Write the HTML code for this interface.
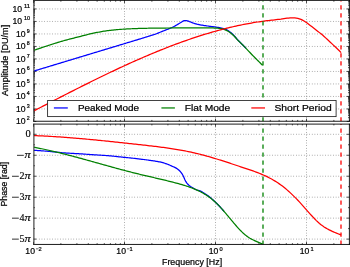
<!DOCTYPE html>
<html><head><meta charset="utf-8"><style>
html,body{margin:0;padding:0;background:#fff;}
svg{display:block;will-change:transform;}
.g{stroke:#000;stroke-width:0.45;stroke-dasharray:0.7 1.95;fill:none;}
.t{stroke:#000;stroke-width:0.7;}
.ax{stroke:#000;stroke-width:0.9;fill:none;}
text{font-family:"Liberation Sans",sans-serif;fill:#000;stroke:#000;stroke-width:0.22;}
.sr{font-family:"Liberation Serif",serif;stroke-width:0.15;}
</style></head><body>
<svg width="350" height="267" viewBox="0 0 350 267">
<rect width="350" height="267" fill="#fff"/>
<defs>
<clipPath id="ct"><rect x="33.65" y="0.4" width="315.75" height="120.85"/></clipPath>
<clipPath id="cb"><rect x="33.65" y="124.1" width="315.75" height="120.35"/></clipPath>
</defs>
<line x1="124.50" y1="0.40" x2="124.50" y2="121.25" class="g"/>
<line x1="215.50" y1="0.40" x2="215.50" y2="121.25" class="g"/>
<line x1="306.50" y1="0.40" x2="306.50" y2="121.25" class="g"/>
<line x1="33.65" y1="108.94" x2="349.40" y2="108.94" class="g"/>
<line x1="33.65" y1="96.44" x2="349.40" y2="96.44" class="g"/>
<line x1="33.65" y1="83.94" x2="349.40" y2="83.94" class="g"/>
<line x1="33.65" y1="71.44" x2="349.40" y2="71.44" class="g"/>
<line x1="33.65" y1="58.94" x2="349.40" y2="58.94" class="g"/>
<line x1="33.65" y1="46.44" x2="349.40" y2="46.44" class="g"/>
<line x1="33.65" y1="33.94" x2="349.40" y2="33.94" class="g"/>
<line x1="33.65" y1="21.44" x2="349.40" y2="21.44" class="g"/>
<line x1="33.65" y1="8.94" x2="349.40" y2="8.94" class="g"/>
<line x1="33.50" y1="121.25" x2="33.50" y2="118.61" class="t"/>
<line x1="33.50" y1="0.40" x2="33.50" y2="3.04" class="t"/>
<line x1="60.89" y1="121.25" x2="60.89" y2="119.93" class="t"/>
<line x1="60.89" y1="0.40" x2="60.89" y2="1.72" class="t"/>
<line x1="76.92" y1="121.25" x2="76.92" y2="119.93" class="t"/>
<line x1="76.92" y1="0.40" x2="76.92" y2="1.72" class="t"/>
<line x1="88.29" y1="121.25" x2="88.29" y2="119.93" class="t"/>
<line x1="88.29" y1="0.40" x2="88.29" y2="1.72" class="t"/>
<line x1="97.11" y1="121.25" x2="97.11" y2="119.93" class="t"/>
<line x1="97.11" y1="0.40" x2="97.11" y2="1.72" class="t"/>
<line x1="104.31" y1="121.25" x2="104.31" y2="119.93" class="t"/>
<line x1="104.31" y1="0.40" x2="104.31" y2="1.72" class="t"/>
<line x1="110.40" y1="121.25" x2="110.40" y2="119.93" class="t"/>
<line x1="110.40" y1="0.40" x2="110.40" y2="1.72" class="t"/>
<line x1="115.68" y1="121.25" x2="115.68" y2="119.93" class="t"/>
<line x1="115.68" y1="0.40" x2="115.68" y2="1.72" class="t"/>
<line x1="120.34" y1="121.25" x2="120.34" y2="119.93" class="t"/>
<line x1="120.34" y1="0.40" x2="120.34" y2="1.72" class="t"/>
<line x1="124.50" y1="121.25" x2="124.50" y2="118.61" class="t"/>
<line x1="124.50" y1="0.40" x2="124.50" y2="3.04" class="t"/>
<line x1="151.89" y1="121.25" x2="151.89" y2="119.93" class="t"/>
<line x1="151.89" y1="0.40" x2="151.89" y2="1.72" class="t"/>
<line x1="167.92" y1="121.25" x2="167.92" y2="119.93" class="t"/>
<line x1="167.92" y1="0.40" x2="167.92" y2="1.72" class="t"/>
<line x1="179.29" y1="121.25" x2="179.29" y2="119.93" class="t"/>
<line x1="179.29" y1="0.40" x2="179.29" y2="1.72" class="t"/>
<line x1="188.11" y1="121.25" x2="188.11" y2="119.93" class="t"/>
<line x1="188.11" y1="0.40" x2="188.11" y2="1.72" class="t"/>
<line x1="195.31" y1="121.25" x2="195.31" y2="119.93" class="t"/>
<line x1="195.31" y1="0.40" x2="195.31" y2="1.72" class="t"/>
<line x1="201.40" y1="121.25" x2="201.40" y2="119.93" class="t"/>
<line x1="201.40" y1="0.40" x2="201.40" y2="1.72" class="t"/>
<line x1="206.68" y1="121.25" x2="206.68" y2="119.93" class="t"/>
<line x1="206.68" y1="0.40" x2="206.68" y2="1.72" class="t"/>
<line x1="211.34" y1="121.25" x2="211.34" y2="119.93" class="t"/>
<line x1="211.34" y1="0.40" x2="211.34" y2="1.72" class="t"/>
<line x1="215.50" y1="121.25" x2="215.50" y2="118.61" class="t"/>
<line x1="215.50" y1="0.40" x2="215.50" y2="3.04" class="t"/>
<line x1="242.89" y1="121.25" x2="242.89" y2="119.93" class="t"/>
<line x1="242.89" y1="0.40" x2="242.89" y2="1.72" class="t"/>
<line x1="258.92" y1="121.25" x2="258.92" y2="119.93" class="t"/>
<line x1="258.92" y1="0.40" x2="258.92" y2="1.72" class="t"/>
<line x1="270.29" y1="121.25" x2="270.29" y2="119.93" class="t"/>
<line x1="270.29" y1="0.40" x2="270.29" y2="1.72" class="t"/>
<line x1="279.11" y1="121.25" x2="279.11" y2="119.93" class="t"/>
<line x1="279.11" y1="0.40" x2="279.11" y2="1.72" class="t"/>
<line x1="286.31" y1="121.25" x2="286.31" y2="119.93" class="t"/>
<line x1="286.31" y1="0.40" x2="286.31" y2="1.72" class="t"/>
<line x1="292.40" y1="121.25" x2="292.40" y2="119.93" class="t"/>
<line x1="292.40" y1="0.40" x2="292.40" y2="1.72" class="t"/>
<line x1="297.68" y1="121.25" x2="297.68" y2="119.93" class="t"/>
<line x1="297.68" y1="0.40" x2="297.68" y2="1.72" class="t"/>
<line x1="302.34" y1="121.25" x2="302.34" y2="119.93" class="t"/>
<line x1="302.34" y1="0.40" x2="302.34" y2="1.72" class="t"/>
<line x1="306.50" y1="121.25" x2="306.50" y2="118.61" class="t"/>
<line x1="306.50" y1="0.40" x2="306.50" y2="3.04" class="t"/>
<line x1="333.89" y1="121.25" x2="333.89" y2="119.93" class="t"/>
<line x1="333.89" y1="0.40" x2="333.89" y2="1.72" class="t"/>
<line x1="349.92" y1="121.25" x2="349.92" y2="119.93" class="t"/>
<line x1="349.92" y1="0.40" x2="349.92" y2="1.72" class="t"/>
<line x1="33.65" y1="121.44" x2="36.29" y2="121.44" class="t"/>
<line x1="349.40" y1="121.44" x2="346.76" y2="121.44" class="t"/>
<line x1="33.65" y1="108.94" x2="36.29" y2="108.94" class="t"/>
<line x1="349.40" y1="108.94" x2="346.76" y2="108.94" class="t"/>
<line x1="33.65" y1="96.44" x2="36.29" y2="96.44" class="t"/>
<line x1="349.40" y1="96.44" x2="346.76" y2="96.44" class="t"/>
<line x1="33.65" y1="83.94" x2="36.29" y2="83.94" class="t"/>
<line x1="349.40" y1="83.94" x2="346.76" y2="83.94" class="t"/>
<line x1="33.65" y1="71.44" x2="36.29" y2="71.44" class="t"/>
<line x1="349.40" y1="71.44" x2="346.76" y2="71.44" class="t"/>
<line x1="33.65" y1="58.94" x2="36.29" y2="58.94" class="t"/>
<line x1="349.40" y1="58.94" x2="346.76" y2="58.94" class="t"/>
<line x1="33.65" y1="46.44" x2="36.29" y2="46.44" class="t"/>
<line x1="349.40" y1="46.44" x2="346.76" y2="46.44" class="t"/>
<line x1="33.65" y1="33.94" x2="36.29" y2="33.94" class="t"/>
<line x1="349.40" y1="33.94" x2="346.76" y2="33.94" class="t"/>
<line x1="33.65" y1="21.44" x2="36.29" y2="21.44" class="t"/>
<line x1="349.40" y1="21.44" x2="346.76" y2="21.44" class="t"/>
<line x1="33.65" y1="8.94" x2="36.29" y2="8.94" class="t"/>
<line x1="349.40" y1="8.94" x2="346.76" y2="8.94" class="t"/>
<line x1="33.65" y1="117.68" x2="34.97" y2="117.68" class="t"/>
<line x1="349.40" y1="117.68" x2="348.08" y2="117.68" class="t"/>
<line x1="33.65" y1="115.48" x2="34.97" y2="115.48" class="t"/>
<line x1="349.40" y1="115.48" x2="348.08" y2="115.48" class="t"/>
<line x1="33.65" y1="113.91" x2="34.97" y2="113.91" class="t"/>
<line x1="349.40" y1="113.91" x2="348.08" y2="113.91" class="t"/>
<line x1="33.65" y1="112.70" x2="34.97" y2="112.70" class="t"/>
<line x1="349.40" y1="112.70" x2="348.08" y2="112.70" class="t"/>
<line x1="33.65" y1="111.71" x2="34.97" y2="111.71" class="t"/>
<line x1="349.40" y1="111.71" x2="348.08" y2="111.71" class="t"/>
<line x1="33.65" y1="110.88" x2="34.97" y2="110.88" class="t"/>
<line x1="349.40" y1="110.88" x2="348.08" y2="110.88" class="t"/>
<line x1="33.65" y1="110.15" x2="34.97" y2="110.15" class="t"/>
<line x1="349.40" y1="110.15" x2="348.08" y2="110.15" class="t"/>
<line x1="33.65" y1="109.51" x2="34.97" y2="109.51" class="t"/>
<line x1="349.40" y1="109.51" x2="348.08" y2="109.51" class="t"/>
<line x1="33.65" y1="105.18" x2="34.97" y2="105.18" class="t"/>
<line x1="349.40" y1="105.18" x2="348.08" y2="105.18" class="t"/>
<line x1="33.65" y1="102.98" x2="34.97" y2="102.98" class="t"/>
<line x1="349.40" y1="102.98" x2="348.08" y2="102.98" class="t"/>
<line x1="33.65" y1="101.41" x2="34.97" y2="101.41" class="t"/>
<line x1="349.40" y1="101.41" x2="348.08" y2="101.41" class="t"/>
<line x1="33.65" y1="100.20" x2="34.97" y2="100.20" class="t"/>
<line x1="349.40" y1="100.20" x2="348.08" y2="100.20" class="t"/>
<line x1="33.65" y1="99.21" x2="34.97" y2="99.21" class="t"/>
<line x1="349.40" y1="99.21" x2="348.08" y2="99.21" class="t"/>
<line x1="33.65" y1="98.38" x2="34.97" y2="98.38" class="t"/>
<line x1="349.40" y1="98.38" x2="348.08" y2="98.38" class="t"/>
<line x1="33.65" y1="97.65" x2="34.97" y2="97.65" class="t"/>
<line x1="349.40" y1="97.65" x2="348.08" y2="97.65" class="t"/>
<line x1="33.65" y1="97.01" x2="34.97" y2="97.01" class="t"/>
<line x1="349.40" y1="97.01" x2="348.08" y2="97.01" class="t"/>
<line x1="33.65" y1="92.68" x2="34.97" y2="92.68" class="t"/>
<line x1="349.40" y1="92.68" x2="348.08" y2="92.68" class="t"/>
<line x1="33.65" y1="90.48" x2="34.97" y2="90.48" class="t"/>
<line x1="349.40" y1="90.48" x2="348.08" y2="90.48" class="t"/>
<line x1="33.65" y1="88.91" x2="34.97" y2="88.91" class="t"/>
<line x1="349.40" y1="88.91" x2="348.08" y2="88.91" class="t"/>
<line x1="33.65" y1="87.70" x2="34.97" y2="87.70" class="t"/>
<line x1="349.40" y1="87.70" x2="348.08" y2="87.70" class="t"/>
<line x1="33.65" y1="86.71" x2="34.97" y2="86.71" class="t"/>
<line x1="349.40" y1="86.71" x2="348.08" y2="86.71" class="t"/>
<line x1="33.65" y1="85.88" x2="34.97" y2="85.88" class="t"/>
<line x1="349.40" y1="85.88" x2="348.08" y2="85.88" class="t"/>
<line x1="33.65" y1="85.15" x2="34.97" y2="85.15" class="t"/>
<line x1="349.40" y1="85.15" x2="348.08" y2="85.15" class="t"/>
<line x1="33.65" y1="84.51" x2="34.97" y2="84.51" class="t"/>
<line x1="349.40" y1="84.51" x2="348.08" y2="84.51" class="t"/>
<line x1="33.65" y1="80.18" x2="34.97" y2="80.18" class="t"/>
<line x1="349.40" y1="80.18" x2="348.08" y2="80.18" class="t"/>
<line x1="33.65" y1="77.98" x2="34.97" y2="77.98" class="t"/>
<line x1="349.40" y1="77.98" x2="348.08" y2="77.98" class="t"/>
<line x1="33.65" y1="76.41" x2="34.97" y2="76.41" class="t"/>
<line x1="349.40" y1="76.41" x2="348.08" y2="76.41" class="t"/>
<line x1="33.65" y1="75.20" x2="34.97" y2="75.20" class="t"/>
<line x1="349.40" y1="75.20" x2="348.08" y2="75.20" class="t"/>
<line x1="33.65" y1="74.21" x2="34.97" y2="74.21" class="t"/>
<line x1="349.40" y1="74.21" x2="348.08" y2="74.21" class="t"/>
<line x1="33.65" y1="73.38" x2="34.97" y2="73.38" class="t"/>
<line x1="349.40" y1="73.38" x2="348.08" y2="73.38" class="t"/>
<line x1="33.65" y1="72.65" x2="34.97" y2="72.65" class="t"/>
<line x1="349.40" y1="72.65" x2="348.08" y2="72.65" class="t"/>
<line x1="33.65" y1="72.01" x2="34.97" y2="72.01" class="t"/>
<line x1="349.40" y1="72.01" x2="348.08" y2="72.01" class="t"/>
<line x1="33.65" y1="67.68" x2="34.97" y2="67.68" class="t"/>
<line x1="349.40" y1="67.68" x2="348.08" y2="67.68" class="t"/>
<line x1="33.65" y1="65.48" x2="34.97" y2="65.48" class="t"/>
<line x1="349.40" y1="65.48" x2="348.08" y2="65.48" class="t"/>
<line x1="33.65" y1="63.91" x2="34.97" y2="63.91" class="t"/>
<line x1="349.40" y1="63.91" x2="348.08" y2="63.91" class="t"/>
<line x1="33.65" y1="62.70" x2="34.97" y2="62.70" class="t"/>
<line x1="349.40" y1="62.70" x2="348.08" y2="62.70" class="t"/>
<line x1="33.65" y1="61.71" x2="34.97" y2="61.71" class="t"/>
<line x1="349.40" y1="61.71" x2="348.08" y2="61.71" class="t"/>
<line x1="33.65" y1="60.88" x2="34.97" y2="60.88" class="t"/>
<line x1="349.40" y1="60.88" x2="348.08" y2="60.88" class="t"/>
<line x1="33.65" y1="60.15" x2="34.97" y2="60.15" class="t"/>
<line x1="349.40" y1="60.15" x2="348.08" y2="60.15" class="t"/>
<line x1="33.65" y1="59.51" x2="34.97" y2="59.51" class="t"/>
<line x1="349.40" y1="59.51" x2="348.08" y2="59.51" class="t"/>
<line x1="33.65" y1="55.18" x2="34.97" y2="55.18" class="t"/>
<line x1="349.40" y1="55.18" x2="348.08" y2="55.18" class="t"/>
<line x1="33.65" y1="52.98" x2="34.97" y2="52.98" class="t"/>
<line x1="349.40" y1="52.98" x2="348.08" y2="52.98" class="t"/>
<line x1="33.65" y1="51.41" x2="34.97" y2="51.41" class="t"/>
<line x1="349.40" y1="51.41" x2="348.08" y2="51.41" class="t"/>
<line x1="33.65" y1="50.20" x2="34.97" y2="50.20" class="t"/>
<line x1="349.40" y1="50.20" x2="348.08" y2="50.20" class="t"/>
<line x1="33.65" y1="49.21" x2="34.97" y2="49.21" class="t"/>
<line x1="349.40" y1="49.21" x2="348.08" y2="49.21" class="t"/>
<line x1="33.65" y1="48.38" x2="34.97" y2="48.38" class="t"/>
<line x1="349.40" y1="48.38" x2="348.08" y2="48.38" class="t"/>
<line x1="33.65" y1="47.65" x2="34.97" y2="47.65" class="t"/>
<line x1="349.40" y1="47.65" x2="348.08" y2="47.65" class="t"/>
<line x1="33.65" y1="47.01" x2="34.97" y2="47.01" class="t"/>
<line x1="349.40" y1="47.01" x2="348.08" y2="47.01" class="t"/>
<line x1="33.65" y1="42.68" x2="34.97" y2="42.68" class="t"/>
<line x1="349.40" y1="42.68" x2="348.08" y2="42.68" class="t"/>
<line x1="33.65" y1="40.48" x2="34.97" y2="40.48" class="t"/>
<line x1="349.40" y1="40.48" x2="348.08" y2="40.48" class="t"/>
<line x1="33.65" y1="38.91" x2="34.97" y2="38.91" class="t"/>
<line x1="349.40" y1="38.91" x2="348.08" y2="38.91" class="t"/>
<line x1="33.65" y1="37.70" x2="34.97" y2="37.70" class="t"/>
<line x1="349.40" y1="37.70" x2="348.08" y2="37.70" class="t"/>
<line x1="33.65" y1="36.71" x2="34.97" y2="36.71" class="t"/>
<line x1="349.40" y1="36.71" x2="348.08" y2="36.71" class="t"/>
<line x1="33.65" y1="35.88" x2="34.97" y2="35.88" class="t"/>
<line x1="349.40" y1="35.88" x2="348.08" y2="35.88" class="t"/>
<line x1="33.65" y1="35.15" x2="34.97" y2="35.15" class="t"/>
<line x1="349.40" y1="35.15" x2="348.08" y2="35.15" class="t"/>
<line x1="33.65" y1="34.51" x2="34.97" y2="34.51" class="t"/>
<line x1="349.40" y1="34.51" x2="348.08" y2="34.51" class="t"/>
<line x1="33.65" y1="30.18" x2="34.97" y2="30.18" class="t"/>
<line x1="349.40" y1="30.18" x2="348.08" y2="30.18" class="t"/>
<line x1="33.65" y1="27.98" x2="34.97" y2="27.98" class="t"/>
<line x1="349.40" y1="27.98" x2="348.08" y2="27.98" class="t"/>
<line x1="33.65" y1="26.41" x2="34.97" y2="26.41" class="t"/>
<line x1="349.40" y1="26.41" x2="348.08" y2="26.41" class="t"/>
<line x1="33.65" y1="25.20" x2="34.97" y2="25.20" class="t"/>
<line x1="349.40" y1="25.20" x2="348.08" y2="25.20" class="t"/>
<line x1="33.65" y1="24.21" x2="34.97" y2="24.21" class="t"/>
<line x1="349.40" y1="24.21" x2="348.08" y2="24.21" class="t"/>
<line x1="33.65" y1="23.38" x2="34.97" y2="23.38" class="t"/>
<line x1="349.40" y1="23.38" x2="348.08" y2="23.38" class="t"/>
<line x1="33.65" y1="22.65" x2="34.97" y2="22.65" class="t"/>
<line x1="349.40" y1="22.65" x2="348.08" y2="22.65" class="t"/>
<line x1="33.65" y1="22.01" x2="34.97" y2="22.01" class="t"/>
<line x1="349.40" y1="22.01" x2="348.08" y2="22.01" class="t"/>
<line x1="33.65" y1="17.68" x2="34.97" y2="17.68" class="t"/>
<line x1="349.40" y1="17.68" x2="348.08" y2="17.68" class="t"/>
<line x1="33.65" y1="15.48" x2="34.97" y2="15.48" class="t"/>
<line x1="349.40" y1="15.48" x2="348.08" y2="15.48" class="t"/>
<line x1="33.65" y1="13.91" x2="34.97" y2="13.91" class="t"/>
<line x1="349.40" y1="13.91" x2="348.08" y2="13.91" class="t"/>
<line x1="33.65" y1="12.70" x2="34.97" y2="12.70" class="t"/>
<line x1="349.40" y1="12.70" x2="348.08" y2="12.70" class="t"/>
<line x1="33.65" y1="11.71" x2="34.97" y2="11.71" class="t"/>
<line x1="349.40" y1="11.71" x2="348.08" y2="11.71" class="t"/>
<line x1="33.65" y1="10.88" x2="34.97" y2="10.88" class="t"/>
<line x1="349.40" y1="10.88" x2="348.08" y2="10.88" class="t"/>
<line x1="33.65" y1="10.15" x2="34.97" y2="10.15" class="t"/>
<line x1="349.40" y1="10.15" x2="348.08" y2="10.15" class="t"/>
<line x1="33.65" y1="9.51" x2="34.97" y2="9.51" class="t"/>
<line x1="349.40" y1="9.51" x2="348.08" y2="9.51" class="t"/>
<line x1="33.65" y1="5.18" x2="34.97" y2="5.18" class="t"/>
<line x1="349.40" y1="5.18" x2="348.08" y2="5.18" class="t"/>
<line x1="33.65" y1="2.98" x2="34.97" y2="2.98" class="t"/>
<line x1="349.40" y1="2.98" x2="348.08" y2="2.98" class="t"/>
<line x1="33.65" y1="1.41" x2="34.97" y2="1.41" class="t"/>
<line x1="349.40" y1="1.41" x2="348.08" y2="1.41" class="t"/>
<g clip-path="url(#ct)" fill="none" stroke-linejoin="round" stroke-linecap="butt">
<path d="M33.70,71.10 L34.77,70.78 L35.83,70.45 L36.90,70.13 L37.97,69.81 L39.03,69.49 L40.10,69.16 L41.17,68.84 L42.23,68.52 L43.30,68.19 L44.37,67.87 L45.44,67.55 L46.50,67.23 L47.57,66.90 L48.64,66.58 L49.70,66.26 L50.77,65.93 L51.84,65.61 L52.90,65.29 L53.97,64.97 L55.04,64.64 L56.10,64.32 L57.17,64.00 L58.24,63.67 L59.30,63.35 L60.37,63.03 L61.44,62.70 L62.50,62.38 L63.57,62.06 L64.64,61.74 L65.71,61.41 L66.77,61.09 L67.84,60.77 L68.91,60.44 L69.97,60.12 L71.04,59.80 L72.11,59.48 L73.17,59.15 L74.24,58.83 L75.31,58.51 L76.37,58.18 L77.44,57.86 L78.51,57.54 L79.57,57.22 L80.64,56.89 L81.71,56.57 L82.77,56.25 L83.84,55.92 L84.91,55.60 L85.97,55.28 L87.04,54.96 L88.11,54.63 L89.18,54.31 L90.24,53.99 L91.31,53.66 L92.38,53.34 L93.44,53.02 L94.51,52.70 L95.58,52.37 L96.64,52.05 L97.71,51.73 L98.78,51.40 L99.84,51.08 L100.91,50.76 L101.98,50.44 L103.04,50.11 L104.11,49.79 L105.18,49.47 L106.24,49.14 L107.31,48.82 L108.38,48.50 L109.45,48.18 L110.51,47.85 L111.58,47.53 L112.65,47.21 L113.71,46.88 L114.78,46.56 L115.85,46.24 L116.91,45.91 L117.98,45.59 L119.05,45.27 L120.11,44.95 L121.18,44.62 L122.25,44.30 L123.31,43.98 L124.38,43.66 L125.45,43.34 L126.51,43.01 L127.58,42.69 L128.65,42.37 L129.72,42.05 L130.78,41.73 L131.85,41.41 L132.92,41.09 L133.98,40.76 L135.05,40.44 L136.12,40.12 L137.18,39.79 L138.25,39.47 L139.32,39.15 L140.38,38.82 L141.45,38.49 L142.52,38.17 L143.58,37.84 L144.65,37.51 L145.72,37.18 L146.78,36.85 L147.85,36.51 L148.92,36.18 L149.98,35.84 L151.05,35.50 L152.12,35.16 L153.19,34.83 L154.25,34.49 L155.32,34.14 L156.39,33.76 L157.45,33.34 L158.52,32.91 L159.59,32.47 L160.65,32.04 L161.72,31.61 L162.79,31.19 L163.85,30.76 L164.92,30.33 L165.99,29.91 L167.05,29.48 L168.12,29.05 L169.19,28.64 L170.25,28.23 L171.32,27.80 L172.39,27.32 L173.46,26.79 L174.52,26.22 L175.59,25.63 L176.66,25.02 L177.72,24.39 L178.79,23.74 L179.86,23.09 L180.92,22.41 L181.99,21.73 L183.06,21.18 L184.12,20.69 L185.19,20.50 L186.26,20.59 L187.32,20.76 L188.39,21.12 L189.46,21.58 L190.52,22.00 L191.59,22.42 L192.66,22.83 L193.73,23.21 L194.79,23.54 L195.86,23.85 L196.93,24.14 L197.99,24.40 L199.06,24.64 L200.13,24.86 L201.19,25.06 L202.26,25.24 L203.33,25.42 L204.39,25.58 L205.46,25.73 L206.53,25.87 L207.59,26.00 L208.66,26.13 L209.73,26.27 L210.79,26.40 L211.86,26.54 L212.93,26.67 L213.99,26.81 L215.06,26.96 L216.13,27.12 L217.20,27.29 L218.26,27.46 L219.33,27.65 L220.40,27.85 L221.46,28.08 L222.53,28.33 L223.60,28.62 L224.66,28.96 L225.73,29.36 L226.80,29.84 L227.86,30.45 L228.93,31.14 L230.00,31.90 L231.06,32.74 L232.13,33.70 L233.20,34.73 L234.26,35.82 L235.33,37.02 L236.40,38.30 L237.47,39.55 L238.53,40.72 L239.60,41.81 L240.67,42.87 L241.73,43.94 L242.80,45.03 L243.87,46.12 L244.93,47.22 L246.00,48.32" stroke="#0000ff" stroke-width="1.25"/>
<path d="M33.70,50.40 L34.85,50.00 L36.00,49.61 L37.15,49.21 L38.30,48.82 L39.45,48.43 L40.60,48.04 L41.75,47.66 L42.90,47.27 L44.05,46.89 L45.20,46.51 L46.35,46.14 L47.50,45.76 L48.65,45.39 L49.80,45.01 L50.95,44.64 L52.10,44.27 L53.25,43.89 L54.40,43.52 L55.55,43.16 L56.71,42.79 L57.86,42.43 L59.01,42.08 L60.16,41.73 L61.31,41.39 L62.46,41.06 L63.61,40.73 L64.76,40.41 L65.91,40.10 L67.06,39.79 L68.21,39.48 L69.36,39.19 L70.51,38.89 L71.66,38.60 L72.81,38.31 L73.96,38.02 L75.11,37.73 L76.26,37.44 L77.41,37.15 L78.56,36.86 L79.71,36.56 L80.86,36.27 L82.01,35.97 L83.16,35.67 L84.31,35.37 L85.46,35.08 L86.61,34.78 L87.76,34.50 L88.91,34.22 L90.06,33.95 L91.21,33.69 L92.36,33.43 L93.51,33.19 L94.66,32.95 L95.81,32.72 L96.96,32.48 L98.11,32.25 L99.26,32.03 L100.41,31.81 L101.56,31.59 L102.72,31.39 L103.87,31.20 L105.02,31.01 L106.17,30.84 L107.32,30.69 L108.47,30.54 L109.62,30.41 L110.77,30.27 L111.92,30.15 L113.07,30.03 L114.22,29.91 L115.37,29.80 L116.52,29.69 L117.67,29.59 L118.82,29.50 L119.97,29.41 L121.12,29.32 L122.27,29.25 L123.42,29.17 L124.57,29.10 L125.72,29.04 L126.87,28.97 L128.02,28.91 L129.17,28.86 L130.32,28.80 L131.47,28.75 L132.62,28.70 L133.77,28.65 L134.92,28.61 L136.07,28.56 L137.22,28.52 L138.37,28.49 L139.52,28.45 L140.67,28.42 L141.82,28.39 L142.97,28.36 L144.12,28.33 L145.27,28.30 L146.42,28.27 L147.57,28.25 L148.73,28.22 L149.88,28.20 L151.03,28.18 L152.18,28.16 L153.33,28.15 L154.48,28.13 L155.63,28.11 L156.78,28.10 L157.93,28.08 L159.08,28.07 L160.23,28.06 L161.38,28.05 L162.53,28.04 L163.68,28.03 L164.83,28.02 L165.98,28.01 L167.13,28.00 L168.28,28.00 L169.43,28.00 L170.58,27.99 L171.73,27.99 L172.88,27.99 L174.03,27.98 L175.18,27.98 L176.33,27.98 L177.48,27.98 L178.63,27.98 L179.78,27.97 L180.93,27.97 L182.08,27.97 L183.23,27.97 L184.38,27.97 L185.53,27.97 L186.68,27.96 L187.83,27.96 L188.98,27.96 L190.13,27.96 L191.28,27.96 L192.43,27.95 L193.58,27.95 L194.74,27.95 L195.89,27.94 L197.04,27.94 L198.19,27.93 L199.34,27.92 L200.49,27.92 L201.64,27.91 L202.79,27.91 L203.94,27.90 L205.09,27.90 L206.24,27.90 L207.39,27.90 L208.54,27.91 L209.69,27.92 L210.84,27.94 L211.99,27.96 L213.14,27.98 L214.29,28.01 L215.44,28.06 L216.59,28.14 L217.74,28.24 L218.89,28.37 L220.04,28.51 L221.19,28.69 L222.34,28.94 L223.49,29.25 L224.64,29.61 L225.79,30.08 L226.94,30.63 L228.09,31.25 L229.24,31.97 L230.39,32.79 L231.54,33.71 L232.69,34.68 L233.84,35.78 L234.99,37.01 L236.14,38.29 L237.29,39.56 L238.44,40.75 L239.59,41.88 L240.75,42.99 L241.90,44.11 L243.05,45.24 L244.20,46.42 L245.35,47.62 L246.50,48.85 L247.65,50.08 L248.80,51.32 L249.95,52.55 L251.10,53.77 L252.25,54.96 L253.40,56.14 L254.55,57.31 L255.70,58.47 L256.85,59.63 L258.00,60.78 L259.15,61.92 L260.30,63.06 L261.45,64.18 L262.60,65.30" stroke="#008000" stroke-width="1.25"/>
<path d="M33.70,110.97 L35.24,110.17 L36.79,109.37 L38.33,108.57 L39.88,107.77 L41.42,106.97 L42.97,106.17 L44.51,105.37 L46.06,104.57 L47.60,103.78 L49.15,102.98 L50.69,102.18 L52.24,101.39 L53.78,100.59 L55.33,99.79 L56.87,99.00 L58.42,98.21 L59.96,97.41 L61.51,96.62 L63.05,95.83 L64.59,95.04 L66.14,94.25 L67.68,93.46 L69.23,92.68 L70.77,91.89 L72.32,91.10 L73.86,90.32 L75.41,89.54 L76.95,88.76 L78.50,87.98 L80.04,87.20 L81.59,86.43 L83.13,85.65 L84.68,84.88 L86.22,84.11 L87.77,83.34 L89.31,82.57 L90.85,81.81 L92.40,81.04 L93.94,80.28 L95.49,79.52 L97.03,78.76 L98.58,78.01 L100.12,77.26 L101.67,76.50 L103.21,75.76 L104.76,75.01 L106.30,74.27 L107.85,73.52 L109.39,72.79 L110.94,72.05 L112.48,71.32 L114.03,70.59 L115.57,69.86 L117.12,69.13 L118.66,68.41 L120.20,67.69 L121.75,66.97 L123.29,66.26 L124.84,65.55 L126.38,64.84 L127.93,64.14 L129.47,63.44 L131.02,62.74 L132.56,62.05 L134.11,61.36 L135.65,60.67 L137.20,59.99 L138.74,59.31 L140.29,58.63 L141.83,57.96 L143.38,57.29 L144.92,56.62 L146.46,55.96 L148.01,55.31 L149.55,54.65 L151.10,54.00 L152.64,53.36 L154.19,52.72 L155.73,52.08 L157.28,51.45 L158.82,50.82 L160.37,50.19 L161.91,49.57 L163.46,48.96 L165.00,48.35 L166.55,47.74 L168.09,47.14 L169.64,46.54 L171.18,45.95 L172.73,45.36 L174.27,44.78 L175.81,44.20 L177.36,43.63 L178.90,43.06 L180.45,42.50 L181.99,41.94 L183.54,41.39 L185.08,40.84 L186.63,40.30 L188.17,39.76 L189.72,39.23 L191.26,38.70 L192.81,38.18 L194.35,37.67 L195.90,37.16 L197.44,36.66 L198.99,36.16 L200.53,35.67 L202.07,35.18 L203.62,34.70 L205.16,34.22 L206.71,33.75 L208.25,33.29 L209.80,32.84 L211.34,32.39 L212.89,31.94 L214.43,31.50 L215.98,31.07 L217.52,30.65 L219.07,30.23 L220.61,29.81 L222.16,29.41 L223.70,29.01 L225.25,28.62 L226.79,28.23 L228.34,27.85 L229.88,27.48 L231.42,27.11 L232.97,26.75 L234.51,26.40 L236.06,26.06 L237.60,25.72 L239.15,25.39 L240.69,25.07 L242.24,24.75 L243.78,24.44 L245.33,24.14 L246.87,23.84 L248.42,23.56 L249.96,23.28 L251.51,23.01 L253.05,22.74 L254.60,22.49 L256.14,22.24 L257.68,22.00 L259.23,21.76 L260.77,21.54 L262.32,21.32 L263.86,21.11 L265.41,20.91 L266.95,20.72 L268.50,20.53 L270.04,20.37 L271.59,20.20 L273.13,20.03 L274.68,19.86 L276.22,19.68 L277.77,19.49 L279.31,19.29 L280.86,19.08 L282.40,18.83 L283.95,18.61 L285.49,18.40 L287.03,18.22 L288.58,18.08 L290.12,17.96 L291.67,17.87 L293.21,17.86 L294.76,17.94 L296.30,18.08 L297.85,18.34 L299.39,18.80 L300.94,19.36 L302.48,20.12 L304.03,21.00 L305.57,22.01 L307.12,23.09 L308.66,24.26 L310.21,25.43 L311.75,26.59 L313.29,27.76 L314.84,28.96 L316.38,30.21 L317.93,31.44 L319.47,32.63 L321.02,33.81 L322.56,35.08 L324.11,36.46 L325.65,37.88 L327.20,39.30 L328.74,40.73 L330.29,42.17 L331.83,43.62 L333.38,45.09 L334.92,46.56 L336.47,48.05 L338.01,49.55 L339.56,51.07 L341.10,52.60" stroke="#ff0000" stroke-width="1.25"/>
<line x1="263.00" y1="121.55" x2="263.00" y2="0.40" stroke="#008000" stroke-width="1.3" stroke-dasharray="4.3 3.7"/>
<line x1="341.00" y1="121.55" x2="341.00" y2="0.40" stroke="#ff0000" stroke-width="1.3" stroke-dasharray="4.3 3.7"/>
</g>
<line x1="33.15" y1="0.40" x2="349.90" y2="0.40" stroke="#000" stroke-width="0.9"/>
<line x1="33.15" y1="121.25" x2="349.90" y2="121.25" stroke="#000" stroke-width="0.9"/>
<line x1="33.9" y1="-0.05" x2="33.9" y2="121.70" stroke="#333" stroke-width="1.1"/>
<line x1="349.40" y1="-0.05" x2="349.40" y2="121.70" stroke="#000" stroke-width="0.9"/>
<rect x="47.6" y="100.5" width="288.5" height="16.1" fill="#fff" stroke="#222" stroke-width="0.85"/>
<line x1="53.9" y1="107.95" x2="67.8" y2="107.95" stroke="#0000ff" stroke-width="1.25"/>
<line x1="161.4" y1="107.95" x2="174.9" y2="107.95" stroke="#008000" stroke-width="1.25"/>
<line x1="251.3" y1="107.95" x2="265.0" y2="107.95" stroke="#ff0000" stroke-width="1.25"/>
<text x="77.9" y="111.0" font-size="9.4" textLength="61.2" lengthAdjust="spacingAndGlyphs">Peaked Mode</text>
<text x="184.8" y="111.0" font-size="9.4" textLength="45.4" lengthAdjust="spacingAndGlyphs">Flat Mode</text>
<text x="274.5" y="111.0" font-size="9.4" textLength="57.2" lengthAdjust="spacingAndGlyphs">Short Period</text>
<line x1="124.50" y1="124.10" x2="124.50" y2="244.45" class="g"/>
<line x1="215.50" y1="124.10" x2="215.50" y2="244.45" class="g"/>
<line x1="306.50" y1="124.10" x2="306.50" y2="244.45" class="g"/>
<line x1="33.65" y1="134.30" x2="349.40" y2="134.30" class="g"/>
<line x1="33.65" y1="155.26" x2="349.40" y2="155.26" class="g"/>
<line x1="33.65" y1="176.22" x2="349.40" y2="176.22" class="g"/>
<line x1="33.65" y1="197.18" x2="349.40" y2="197.18" class="g"/>
<line x1="33.65" y1="218.14" x2="349.40" y2="218.14" class="g"/>
<line x1="33.65" y1="239.10" x2="349.40" y2="239.10" class="g"/>
<line x1="33.50" y1="244.45" x2="33.50" y2="241.81" class="t"/>
<line x1="33.50" y1="124.10" x2="33.50" y2="126.74" class="t"/>
<line x1="60.89" y1="244.45" x2="60.89" y2="243.13" class="t"/>
<line x1="60.89" y1="124.10" x2="60.89" y2="125.42" class="t"/>
<line x1="76.92" y1="244.45" x2="76.92" y2="243.13" class="t"/>
<line x1="76.92" y1="124.10" x2="76.92" y2="125.42" class="t"/>
<line x1="88.29" y1="244.45" x2="88.29" y2="243.13" class="t"/>
<line x1="88.29" y1="124.10" x2="88.29" y2="125.42" class="t"/>
<line x1="97.11" y1="244.45" x2="97.11" y2="243.13" class="t"/>
<line x1="97.11" y1="124.10" x2="97.11" y2="125.42" class="t"/>
<line x1="104.31" y1="244.45" x2="104.31" y2="243.13" class="t"/>
<line x1="104.31" y1="124.10" x2="104.31" y2="125.42" class="t"/>
<line x1="110.40" y1="244.45" x2="110.40" y2="243.13" class="t"/>
<line x1="110.40" y1="124.10" x2="110.40" y2="125.42" class="t"/>
<line x1="115.68" y1="244.45" x2="115.68" y2="243.13" class="t"/>
<line x1="115.68" y1="124.10" x2="115.68" y2="125.42" class="t"/>
<line x1="120.34" y1="244.45" x2="120.34" y2="243.13" class="t"/>
<line x1="120.34" y1="124.10" x2="120.34" y2="125.42" class="t"/>
<line x1="124.50" y1="244.45" x2="124.50" y2="241.81" class="t"/>
<line x1="124.50" y1="124.10" x2="124.50" y2="126.74" class="t"/>
<line x1="151.89" y1="244.45" x2="151.89" y2="243.13" class="t"/>
<line x1="151.89" y1="124.10" x2="151.89" y2="125.42" class="t"/>
<line x1="167.92" y1="244.45" x2="167.92" y2="243.13" class="t"/>
<line x1="167.92" y1="124.10" x2="167.92" y2="125.42" class="t"/>
<line x1="179.29" y1="244.45" x2="179.29" y2="243.13" class="t"/>
<line x1="179.29" y1="124.10" x2="179.29" y2="125.42" class="t"/>
<line x1="188.11" y1="244.45" x2="188.11" y2="243.13" class="t"/>
<line x1="188.11" y1="124.10" x2="188.11" y2="125.42" class="t"/>
<line x1="195.31" y1="244.45" x2="195.31" y2="243.13" class="t"/>
<line x1="195.31" y1="124.10" x2="195.31" y2="125.42" class="t"/>
<line x1="201.40" y1="244.45" x2="201.40" y2="243.13" class="t"/>
<line x1="201.40" y1="124.10" x2="201.40" y2="125.42" class="t"/>
<line x1="206.68" y1="244.45" x2="206.68" y2="243.13" class="t"/>
<line x1="206.68" y1="124.10" x2="206.68" y2="125.42" class="t"/>
<line x1="211.34" y1="244.45" x2="211.34" y2="243.13" class="t"/>
<line x1="211.34" y1="124.10" x2="211.34" y2="125.42" class="t"/>
<line x1="215.50" y1="244.45" x2="215.50" y2="241.81" class="t"/>
<line x1="215.50" y1="124.10" x2="215.50" y2="126.74" class="t"/>
<line x1="242.89" y1="244.45" x2="242.89" y2="243.13" class="t"/>
<line x1="242.89" y1="124.10" x2="242.89" y2="125.42" class="t"/>
<line x1="258.92" y1="244.45" x2="258.92" y2="243.13" class="t"/>
<line x1="258.92" y1="124.10" x2="258.92" y2="125.42" class="t"/>
<line x1="270.29" y1="244.45" x2="270.29" y2="243.13" class="t"/>
<line x1="270.29" y1="124.10" x2="270.29" y2="125.42" class="t"/>
<line x1="279.11" y1="244.45" x2="279.11" y2="243.13" class="t"/>
<line x1="279.11" y1="124.10" x2="279.11" y2="125.42" class="t"/>
<line x1="286.31" y1="244.45" x2="286.31" y2="243.13" class="t"/>
<line x1="286.31" y1="124.10" x2="286.31" y2="125.42" class="t"/>
<line x1="292.40" y1="244.45" x2="292.40" y2="243.13" class="t"/>
<line x1="292.40" y1="124.10" x2="292.40" y2="125.42" class="t"/>
<line x1="297.68" y1="244.45" x2="297.68" y2="243.13" class="t"/>
<line x1="297.68" y1="124.10" x2="297.68" y2="125.42" class="t"/>
<line x1="302.34" y1="244.45" x2="302.34" y2="243.13" class="t"/>
<line x1="302.34" y1="124.10" x2="302.34" y2="125.42" class="t"/>
<line x1="306.50" y1="244.45" x2="306.50" y2="241.81" class="t"/>
<line x1="306.50" y1="124.10" x2="306.50" y2="126.74" class="t"/>
<line x1="333.89" y1="244.45" x2="333.89" y2="243.13" class="t"/>
<line x1="333.89" y1="124.10" x2="333.89" y2="125.42" class="t"/>
<line x1="349.92" y1="244.45" x2="349.92" y2="243.13" class="t"/>
<line x1="349.92" y1="124.10" x2="349.92" y2="125.42" class="t"/>
<line x1="33.65" y1="134.30" x2="36.29" y2="134.30" class="t"/>
<line x1="349.40" y1="134.30" x2="346.76" y2="134.30" class="t"/>
<line x1="33.65" y1="155.26" x2="36.29" y2="155.26" class="t"/>
<line x1="349.40" y1="155.26" x2="346.76" y2="155.26" class="t"/>
<line x1="33.65" y1="176.22" x2="36.29" y2="176.22" class="t"/>
<line x1="349.40" y1="176.22" x2="346.76" y2="176.22" class="t"/>
<line x1="33.65" y1="197.18" x2="36.29" y2="197.18" class="t"/>
<line x1="349.40" y1="197.18" x2="346.76" y2="197.18" class="t"/>
<line x1="33.65" y1="218.14" x2="36.29" y2="218.14" class="t"/>
<line x1="349.40" y1="218.14" x2="346.76" y2="218.14" class="t"/>
<line x1="33.65" y1="239.10" x2="36.29" y2="239.10" class="t"/>
<line x1="349.40" y1="239.10" x2="346.76" y2="239.10" class="t"/>
<line x1="33.65" y1="144.78" x2="34.97" y2="144.78" class="t"/>
<line x1="349.40" y1="144.78" x2="348.08" y2="144.78" class="t"/>
<line x1="33.65" y1="165.74" x2="34.97" y2="165.74" class="t"/>
<line x1="349.40" y1="165.74" x2="348.08" y2="165.74" class="t"/>
<line x1="33.65" y1="186.70" x2="34.97" y2="186.70" class="t"/>
<line x1="349.40" y1="186.70" x2="348.08" y2="186.70" class="t"/>
<line x1="33.65" y1="207.66" x2="34.97" y2="207.66" class="t"/>
<line x1="349.40" y1="207.66" x2="348.08" y2="207.66" class="t"/>
<line x1="33.65" y1="228.62" x2="34.97" y2="228.62" class="t"/>
<line x1="349.40" y1="228.62" x2="348.08" y2="228.62" class="t"/>
<g clip-path="url(#cb)" fill="none" stroke-linejoin="round">
<path d="M33.70,150.30 L34.66,150.35 L35.61,150.41 L36.57,150.47 L37.53,150.53 L38.48,150.59 L39.44,150.65 L40.39,150.72 L41.35,150.79 L42.31,150.86 L43.26,150.93 L44.22,151.00 L45.18,151.07 L46.13,151.15 L47.09,151.23 L48.04,151.30 L49.00,151.39 L49.96,151.47 L50.91,151.57 L51.87,151.67 L52.83,151.77 L53.78,151.87 L54.74,151.98 L55.69,152.08 L56.65,152.19 L57.61,152.29 L58.56,152.39 L59.52,152.49 L60.48,152.58 L61.43,152.67 L62.39,152.75 L63.34,152.83 L64.30,152.89 L65.26,152.96 L66.21,153.02 L67.17,153.08 L68.13,153.14 L69.08,153.19 L70.04,153.25 L70.99,153.30 L71.95,153.35 L72.91,153.40 L73.86,153.46 L74.82,153.51 L75.78,153.57 L76.73,153.62 L77.69,153.68 L78.65,153.74 L79.60,153.80 L80.56,153.86 L81.51,153.93 L82.47,153.99 L83.43,154.05 L84.38,154.12 L85.34,154.18 L86.30,154.25 L87.25,154.31 L88.21,154.38 L89.16,154.44 L90.12,154.51 L91.08,154.57 L92.03,154.64 L92.99,154.70 L93.95,154.76 L94.90,154.82 L95.86,154.88 L96.81,154.94 L97.77,155.00 L98.73,155.06 L99.68,155.12 L100.64,155.18 L101.60,155.25 L102.55,155.31 L103.51,155.37 L104.46,155.44 L105.42,155.50 L106.38,155.57 L107.33,155.65 L108.29,155.72 L109.25,155.80 L110.20,155.89 L111.16,155.97 L112.12,156.07 L113.07,156.16 L114.03,156.25 L114.98,156.35 L115.94,156.45 L116.90,156.55 L117.85,156.65 L118.81,156.76 L119.77,156.86 L120.72,156.96 L121.68,157.06 L122.63,157.16 L123.59,157.26 L124.55,157.36 L125.50,157.46 L126.46,157.55 L127.42,157.65 L128.37,157.75 L129.33,157.85 L130.28,157.95 L131.24,158.05 L132.20,158.15 L133.15,158.25 L134.11,158.36 L135.07,158.46 L136.02,158.57 L136.98,158.68 L137.93,158.79 L138.89,158.91 L139.85,159.02 L140.80,159.14 L141.76,159.26 L142.72,159.38 L143.67,159.50 L144.63,159.62 L145.58,159.75 L146.54,159.87 L147.50,160.00 L148.45,160.14 L149.41,160.27 L150.37,160.41 L151.32,160.55 L152.28,160.69 L153.24,160.84 L154.19,160.98 L155.15,161.13 L156.10,161.28 L157.06,161.44 L158.02,161.60 L158.97,161.78 L159.93,161.98 L160.89,162.19 L161.84,162.42 L162.80,162.68 L163.75,162.96 L164.71,163.25 L165.67,163.57 L166.62,163.90 L167.58,164.24 L168.54,164.61 L169.49,165.02 L170.45,165.47 L171.40,165.92 L172.36,166.36 L173.32,166.77 L174.27,167.18 L175.23,167.62 L176.19,168.12 L177.14,168.71 L178.10,169.43 L179.05,170.26 L180.01,171.22 L180.97,172.35 L181.92,173.67 L182.88,175.29 L183.84,177.30 L184.79,179.47 L185.75,181.47 L186.71,182.92 L187.66,184.05 L188.62,184.97 L189.57,185.73 L190.53,186.42 L191.49,187.06 L192.44,187.66 L193.40,188.22 L194.36,188.77 L195.31,189.30 L196.27,189.75 L197.22,190.08 L198.18,190.34 L199.14,190.60 L200.09,190.93 L201.05,191.37 L202.01,191.90 L202.96,192.48 L203.92,193.07 L204.87,193.67 L205.83,194.29 L206.79,194.95 L207.74,195.63 L208.70,196.33 L209.66,197.07 L210.61,197.84 L211.57,198.64 L212.52,199.46 L213.48,200.30 L214.44,201.18 L215.39,202.08 L216.35,203.01 L217.31,203.98 L218.26,204.98 L219.22,205.99 L220.17,207.03 L221.13,208.07 L222.09,209.14 L223.04,210.23 L224.00,211.33" stroke="#0000ff" stroke-width="1.25"/>
<path d="M33.70,147.16 L34.85,147.38 L36.00,147.60 L37.15,147.82 L38.30,148.05 L39.45,148.28 L40.60,148.52 L41.75,148.76 L42.90,149.00 L44.05,149.24 L45.20,149.49 L46.35,149.74 L47.50,150.00 L48.65,150.26 L49.80,150.52 L50.95,150.78 L52.10,151.05 L53.25,151.31 L54.40,151.59 L55.55,151.86 L56.71,152.14 L57.86,152.42 L59.01,152.70 L60.16,152.98 L61.31,153.27 L62.46,153.55 L63.61,153.84 L64.76,154.14 L65.91,154.43 L67.06,154.73 L68.21,155.02 L69.36,155.32 L70.51,155.63 L71.66,155.93 L72.81,156.23 L73.96,156.54 L75.11,156.85 L76.26,157.16 L77.41,157.47 L78.56,157.78 L79.71,158.09 L80.86,158.40 L82.01,158.72 L83.16,159.03 L84.31,159.35 L85.46,159.67 L86.61,159.98 L87.76,160.30 L88.91,160.62 L90.06,160.94 L91.21,161.26 L92.36,161.58 L93.51,161.90 L94.66,162.23 L95.81,162.55 L96.96,162.87 L98.11,163.19 L99.26,163.51 L100.41,163.83 L101.56,164.16 L102.72,164.48 L103.87,164.80 L105.02,165.12 L106.17,165.44 L107.32,165.76 L108.47,166.08 L109.62,166.40 L110.77,166.72 L111.92,167.03 L113.07,167.35 L114.22,167.67 L115.37,167.98 L116.52,168.29 L117.67,168.61 L118.82,168.92 L119.97,169.23 L121.12,169.54 L122.27,169.85 L123.42,170.15 L124.57,170.46 L125.72,170.76 L126.87,171.06 L128.02,171.36 L129.17,171.66 L130.32,171.96 L131.47,172.25 L132.62,172.54 L133.77,172.83 L134.92,173.12 L136.07,173.41 L137.22,173.69 L138.37,173.97 L139.52,174.25 L140.67,174.53 L141.82,174.81 L142.97,175.08 L144.12,175.35 L145.27,175.62 L146.42,175.89 L147.57,176.16 L148.73,176.43 L149.88,176.70 L151.03,176.96 L152.18,177.23 L153.33,177.50 L154.48,177.76 L155.63,178.03 L156.78,178.30 L157.93,178.57 L159.08,178.83 L160.23,179.10 L161.38,179.38 L162.53,179.65 L163.68,179.92 L164.83,180.20 L165.98,180.48 L167.13,180.76 L168.28,181.04 L169.43,181.32 L170.58,181.61 L171.73,181.90 L172.88,182.20 L174.03,182.49 L175.18,182.79 L176.33,183.10 L177.48,183.40 L178.63,183.72 L179.78,184.04 L180.93,184.36 L182.08,184.69 L183.23,185.04 L184.38,185.39 L185.53,185.75 L186.68,186.12 L187.83,186.51 L188.98,186.90 L190.13,187.31 L191.28,187.74 L192.43,188.18 L193.58,188.64 L194.74,189.12 L195.89,189.61 L197.04,190.12 L198.19,190.66 L199.34,191.21 L200.49,191.79 L201.64,192.40 L202.79,193.03 L203.94,193.68 L205.09,194.37 L206.24,195.09 L207.39,195.85 L208.54,196.64 L209.69,197.47 L210.84,198.34 L211.99,199.25 L213.14,200.20 L214.29,201.20 L215.44,202.24 L216.59,203.33 L217.74,204.47 L218.89,205.66 L220.04,206.88 L221.19,208.14 L222.34,209.43 L223.49,210.74 L224.64,212.08 L225.79,213.44 L226.94,214.81 L228.09,216.19 L229.24,217.57 L230.39,218.96 L231.54,220.34 L232.69,221.72 L233.84,223.09 L234.99,224.44 L236.14,225.77 L237.29,227.07 L238.44,228.34 L239.59,229.57 L240.75,230.76 L241.90,231.90 L243.05,232.98 L244.20,234.01 L245.35,234.98 L246.50,235.88 L247.65,236.71 L248.80,237.48 L249.95,238.19 L251.10,238.86 L252.25,239.47 L253.40,240.06 L254.55,240.61 L255.70,241.14 L256.85,241.65 L258.00,242.14 L259.15,242.63 L260.30,243.13 L261.45,243.63 L262.60,244.14" stroke="#008000" stroke-width="1.25"/>
<path d="M33.70,135.60 L35.24,135.66 L36.79,135.72 L38.33,135.78 L39.88,135.85 L41.42,135.92 L42.97,135.99 L44.51,136.07 L46.06,136.15 L47.60,136.23 L49.15,136.32 L50.69,136.40 L52.24,136.50 L53.78,136.59 L55.33,136.69 L56.87,136.78 L58.42,136.89 L59.96,136.99 L61.51,137.10 L63.05,137.21 L64.59,137.32 L66.14,137.43 L67.68,137.55 L69.23,137.67 L70.77,137.79 L72.32,137.91 L73.86,138.04 L75.41,138.16 L76.95,138.29 L78.50,138.42 L80.04,138.56 L81.59,138.69 L83.13,138.83 L84.68,138.97 L86.22,139.11 L87.77,139.25 L89.31,139.39 L90.85,139.54 L92.40,139.68 L93.94,139.83 L95.49,139.98 L97.03,140.13 L98.58,140.28 L100.12,140.44 L101.67,140.59 L103.21,140.75 L104.76,140.90 L106.30,141.06 L107.85,141.22 L109.39,141.38 L110.94,141.54 L112.48,141.71 L114.03,141.87 L115.57,142.03 L117.12,142.20 L118.66,142.36 L120.20,142.53 L121.75,142.69 L123.29,142.86 L124.84,143.03 L126.38,143.20 L127.93,143.37 L129.47,143.53 L131.02,143.70 L132.56,143.87 L134.11,144.04 L135.65,144.21 L137.20,144.38 L138.74,144.55 L140.29,144.72 L141.83,144.89 L143.38,145.06 L144.92,145.24 L146.46,145.41 L148.01,145.59 L149.55,145.76 L151.10,145.94 L152.64,146.12 L154.19,146.31 L155.73,146.49 L157.28,146.68 L158.82,146.88 L160.37,147.08 L161.91,147.28 L163.46,147.48 L165.00,147.69 L166.55,147.91 L168.09,148.13 L169.64,148.35 L171.18,148.58 L172.73,148.82 L174.27,149.06 L175.81,149.31 L177.36,149.57 L178.90,149.83 L180.45,150.10 L181.99,150.38 L183.54,150.67 L185.08,150.96 L186.63,151.26 L188.17,151.57 L189.72,151.89 L191.26,152.22 L192.81,152.56 L194.35,152.91 L195.90,153.27 L197.44,153.63 L198.99,154.01 L200.53,154.40 L202.07,154.80 L203.62,155.21 L205.16,155.63 L206.71,156.05 L208.25,156.49 L209.80,156.93 L211.34,157.38 L212.89,157.84 L214.43,158.30 L215.98,158.77 L217.52,159.24 L219.07,159.73 L220.61,160.21 L222.16,160.70 L223.70,161.20 L225.25,161.70 L226.79,162.20 L228.34,162.70 L229.88,163.21 L231.42,163.72 L232.97,164.23 L234.51,164.74 L236.06,165.26 L237.60,165.77 L239.15,166.28 L240.69,166.80 L242.24,167.31 L243.78,167.82 L245.33,168.33 L246.87,168.85 L248.42,169.36 L249.96,169.89 L251.51,170.42 L253.05,170.96 L254.60,171.52 L256.14,172.09 L257.68,172.67 L259.23,173.28 L260.77,173.90 L262.32,174.55 L263.86,175.23 L265.41,175.93 L266.95,176.67 L268.50,177.43 L270.04,178.23 L271.59,179.07 L273.13,179.94 L274.68,180.85 L276.22,181.81 L277.77,182.81 L279.31,183.86 L280.86,184.96 L282.40,186.11 L283.95,187.31 L285.49,188.57 L287.03,189.88 L288.58,191.23 L290.12,192.64 L291.67,194.09 L293.21,195.58 L294.76,197.11 L296.30,198.68 L297.85,200.29 L299.39,201.93 L300.94,203.61 L302.48,205.31 L304.03,207.05 L305.57,208.80 L307.12,210.56 L308.66,212.32 L310.21,214.06 L311.75,215.76 L313.29,217.43 L314.84,219.04 L316.38,220.58 L317.93,222.04 L319.47,223.41 L321.02,224.68 L322.56,225.84 L324.11,226.91 L325.65,227.89 L327.20,228.80 L328.74,229.63 L330.29,230.41 L331.83,231.15 L333.38,231.84 L334.92,232.50 L336.47,233.14 L338.01,233.76 L339.56,234.38 L341.10,235.01" stroke="#ff0000" stroke-width="1.25"/>
<line x1="263.00" y1="244.85" x2="263.00" y2="124.10" stroke="#008000" stroke-width="1.3" stroke-dasharray="4.3 3.7"/>
<line x1="341.00" y1="244.85" x2="341.00" y2="124.10" stroke="#ff0000" stroke-width="1.3" stroke-dasharray="4.3 3.7"/>
</g>
<line x1="33.15" y1="124.10" x2="349.90" y2="124.10" stroke="#000" stroke-width="0.9"/>
<line x1="33.15" y1="244.45" x2="349.90" y2="244.45" stroke="#000" stroke-width="0.9"/>
<line x1="33.9" y1="123.65" x2="33.9" y2="244.90" stroke="#333" stroke-width="1.1"/>
<line x1="349.40" y1="123.65" x2="349.40" y2="244.90" stroke="#000" stroke-width="0.9"/>
<text x="15.90" y="124.14" font-size="9.0" textLength="9.6" lengthAdjust="spacingAndGlyphs">10</text>
<text x="26.70" y="120.44" font-size="5.7" textLength="2.95" lengthAdjust="spacingAndGlyphs">2</text>
<text x="15.90" y="111.64" font-size="9.0" textLength="9.6" lengthAdjust="spacingAndGlyphs">10</text>
<text x="26.70" y="107.94" font-size="5.7" textLength="2.95" lengthAdjust="spacingAndGlyphs">3</text>
<text x="15.90" y="99.14" font-size="9.0" textLength="9.6" lengthAdjust="spacingAndGlyphs">10</text>
<text x="26.70" y="95.44" font-size="5.7" textLength="2.95" lengthAdjust="spacingAndGlyphs">4</text>
<text x="15.90" y="86.64" font-size="9.0" textLength="9.6" lengthAdjust="spacingAndGlyphs">10</text>
<text x="26.70" y="82.94" font-size="5.7" textLength="2.95" lengthAdjust="spacingAndGlyphs">5</text>
<text x="15.90" y="74.14" font-size="9.0" textLength="9.6" lengthAdjust="spacingAndGlyphs">10</text>
<text x="26.70" y="70.44" font-size="5.7" textLength="2.95" lengthAdjust="spacingAndGlyphs">6</text>
<text x="15.90" y="61.64" font-size="9.0" textLength="9.6" lengthAdjust="spacingAndGlyphs">10</text>
<text x="26.70" y="57.94" font-size="5.7" textLength="2.95" lengthAdjust="spacingAndGlyphs">7</text>
<text x="15.90" y="49.14" font-size="9.0" textLength="9.6" lengthAdjust="spacingAndGlyphs">10</text>
<text x="26.70" y="45.44" font-size="5.7" textLength="2.95" lengthAdjust="spacingAndGlyphs">8</text>
<text x="15.90" y="36.64" font-size="9.0" textLength="9.6" lengthAdjust="spacingAndGlyphs">10</text>
<text x="26.70" y="32.94" font-size="5.7" textLength="2.95" lengthAdjust="spacingAndGlyphs">9</text>
<text x="12.50" y="24.14" font-size="9.0" textLength="9.6" lengthAdjust="spacingAndGlyphs">10</text>
<text x="23.90" y="20.44" font-size="5.7" textLength="6.10" lengthAdjust="spacingAndGlyphs">10</text>
<text x="12.50" y="11.64" font-size="9.0" textLength="9.6" lengthAdjust="spacingAndGlyphs">10</text>
<text x="23.90" y="7.94" font-size="5.7" textLength="6.10" lengthAdjust="spacingAndGlyphs">11</text>
<text x="25.35" y="254.2" font-size="9.0" textLength="9.6" lengthAdjust="spacingAndGlyphs">10</text>
<rect x="35.95" y="248.6" width="2.5" height="0.6" fill="#000"/>
<text x="38.45" y="250.9" font-size="5.7">2</text>
<text x="116.35" y="254.2" font-size="9.0" textLength="9.6" lengthAdjust="spacingAndGlyphs">10</text>
<rect x="126.95" y="248.6" width="2.5" height="0.6" fill="#000"/>
<text x="129.45" y="250.9" font-size="5.7">1</text>
<text x="208.75" y="254.2" font-size="9.0" textLength="9.6" lengthAdjust="spacingAndGlyphs">10</text>
<text x="219.45" y="250.8" font-size="5.7">0</text>
<text x="299.75" y="254.2" font-size="9.0" textLength="9.6" lengthAdjust="spacingAndGlyphs">10</text>
<text x="310.45" y="250.8" font-size="5.7">1</text>
<text class="sr" x="25.5" y="137.10" font-size="10.5">0</text>
<rect x="17.00" y="154.86" width="6.80" height="0.8" fill="#000"/>
<text class="sr" x="24.60" y="157.96" font-size="10.5" font-style="italic" textLength="6.2" lengthAdjust="spacingAndGlyphs">π</text>
<text class="sr" x="19.4" y="178.92" font-size="10">2</text>
<rect x="12.00" y="175.82" width="6.80" height="0.8" fill="#000"/>
<text class="sr" x="24.60" y="178.92" font-size="10.5" font-style="italic" textLength="6.2" lengthAdjust="spacingAndGlyphs">π</text>
<text class="sr" x="19.4" y="199.88" font-size="10">3</text>
<rect x="12.00" y="196.78" width="6.80" height="0.8" fill="#000"/>
<text class="sr" x="24.60" y="199.88" font-size="10.5" font-style="italic" textLength="6.2" lengthAdjust="spacingAndGlyphs">π</text>
<text class="sr" x="19.4" y="220.84" font-size="10">4</text>
<rect x="12.00" y="217.74" width="6.80" height="0.8" fill="#000"/>
<text class="sr" x="24.60" y="220.84" font-size="10.5" font-style="italic" textLength="6.2" lengthAdjust="spacingAndGlyphs">π</text>
<text class="sr" x="19.4" y="241.80" font-size="10">5</text>
<rect x="12.00" y="238.70" width="6.80" height="0.8" fill="#000"/>
<text class="sr" x="24.60" y="241.80" font-size="10.5" font-style="italic" textLength="6.2" lengthAdjust="spacingAndGlyphs">π</text>
<text x="162.0" y="265.4" font-size="9.0" textLength="60.1" lengthAdjust="spacingAndGlyphs">Frequency [Hz]</text>
<text transform="translate(7.8,96.0) rotate(-90)" font-size="9.0" textLength="71.2" lengthAdjust="spacingAndGlyphs">Amplitude [DU/m]</text>
<text transform="translate(6.9,206.5) rotate(-90)" font-size="9.0" textLength="44.6" lengthAdjust="spacingAndGlyphs">Phase [rad]</text>
</svg></body></html>
